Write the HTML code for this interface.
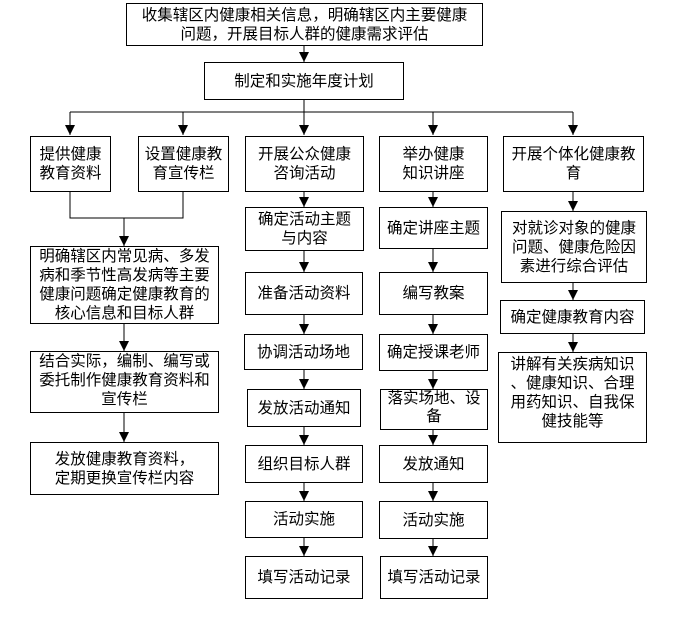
<!DOCTYPE html>
<html><head><meta charset="utf-8"><style>
body{margin:0;width:681px;height:619px;background:#fff;position:relative;overflow:hidden;font-family:"Liberation Sans","Noto Sans CJK SC","WenQuanYi Zen Hei",sans-serif;}
.b{position:absolute;border:1px solid #000;box-sizing:border-box;display:flex;align-items:center;justify-content:center;text-align:center;font-size:15.5px;line-height:19px;color:#000;background:#fff;}
svg{position:absolute;left:0;top:0}
</style></head><body>
<svg width="681" height="619">
<g stroke="#000" stroke-width="1" fill="none">
<path d="M304 45V62M304 99V112M70 112H573M70 112V135M183 112V135M304 112V135M433 112V135M573 112V135"/>
<path d="M70 191V218H183V191M124 218V246"/>
<path d="M124 323V351M124 412V442"/>
<path d="M304 191V207M304 251V272M304 314V334M304 369V389M304 426V445M304 482V501M304 537V556"/>
<path d="M433 191V207M433 248V272M433 314V334M433 370V389M433 429V445M433 482V501M433 538V556"/>
<path d="M573 191V211M573 282V300M573 333V352"/>
</g>
<g fill="#000">
<path d="M299 52h10l-5 10zM299 125h10l-5 10zM65 125h10l-5 10zM178 125h10l-5 10zM428 125h10l-5 10zM568 125h10l-5 10z"/>
<path d="M119 236h10l-5 10zM119 341h10l-5 10zM119 432h10l-5 10z"/>
<path d="M299 197h10l-5 10zM299 262h10l-5 10zM299 324h10l-5 10zM299 379h10l-5 10zM299 435h10l-5 10zM299 491h10l-5 10zM299 546h10l-5 10z"/>
<path d="M428 197h10l-5 10zM428 262h10l-5 10zM428 324h10l-5 10zM428 379h10l-5 10zM428 435h10l-5 10zM428 491h10l-5 10zM428 546h10l-5 10z"/>
<path d="M568 201h10l-5 10zM568 290h10l-5 10zM568 342h10l-5 10z"/>
</g>
</svg>
<div class="b" style="left:126px;top:3px;width:357px;height:43px;">收集辖区内健康相关信息，明确辖区内主要健康<br>问题，开展目标人群的健康需求评估</div>
<div class="b" style="left:204px;top:62px;width:200px;height:38px;">制定和实施年度计划</div>
<div class="b" style="left:30px;top:136px;width:81px;height:56px;">提供健康<br>教育资料</div>
<div class="b" style="left:138px;top:136px;width:91px;height:56px;">设置健康教<br>育宣传栏</div>
<div class="b" style="left:245px;top:136px;width:119px;height:56px;">开展公众健康<br>咨询活动</div>
<div class="b" style="left:379px;top:136px;width:109px;height:56px;">举办健康<br>知识讲座</div>
<div class="b" style="left:503px;top:136px;width:141px;height:56px;">开展个体化健康教<br>育</div>
<div class="b" style="left:30px;top:246px;width:189px;height:78px;">明确辖区内常见病、多发<br>病和季节性高发病等主要<br>健康问题确定健康教育的<br>核心信息和目标人群</div>
<div class="b" style="left:30px;top:351px;width:189px;height:62px;align-items:flex-start;">结合实际，编制、编写或<br>委托制作健康教育资料和<br>宣传栏</div>
<div class="b" style="left:30px;top:442px;width:189px;height:53px;">发放健康教育资料，<br>定期更换宣传栏内容</div>
<div class="b" style="left:245px;top:207px;width:119px;height:44px;">确定活动主题<br>与内容</div>
<div class="b" style="left:245px;top:272px;width:118px;height:43px;">准备活动资料</div>
<div class="b" style="left:244px;top:334px;width:119px;height:36px;">协调活动场地</div>
<div class="b" style="left:247px;top:389px;width:114px;height:38px;">发放活动通知</div>
<div class="b" style="left:245px;top:445px;width:118px;height:38px;">组织目标人群</div>
<div class="b" style="left:245px;top:501px;width:118px;height:37px;">活动实施</div>
<div class="b" style="left:245px;top:556px;width:118px;height:43px;">填写活动记录</div>
<div class="b" style="left:379px;top:207px;width:109px;height:42px;">确定讲座主题</div>
<div class="b" style="left:379px;top:272px;width:109px;height:43px;">编写教案</div>
<div class="b" style="left:379px;top:334px;width:109px;height:37px;">确定授课老师</div>
<div class="b" style="left:380px;top:389px;width:108px;height:41px;align-items:flex-start;line-height:18px;">落实场地、设<br>备</div>
<div class="b" style="left:379px;top:445px;width:109px;height:38px;">发放通知</div>
<div class="b" style="left:379px;top:501px;width:109px;height:38px;">活动实施</div>
<div class="b" style="left:380px;top:556px;width:108px;height:43px;">填写活动记录</div>
<div class="b" style="left:501px;top:211px;width:146px;height:72px;">对就诊对象的健康<br>问题、健康危险因<br>素进行综合评估</div>
<div class="b" style="left:500px;top:300px;width:145px;height:34px;">确定健康教育内容</div>
<div class="b" style="left:498px;top:352px;width:149px;height:91px;align-items:flex-start;padding-top:2px;">讲解有关疾病知识<br>、健康知识、合理<br>用药知识、自我保<br>健技能等</div>
</body></html>
